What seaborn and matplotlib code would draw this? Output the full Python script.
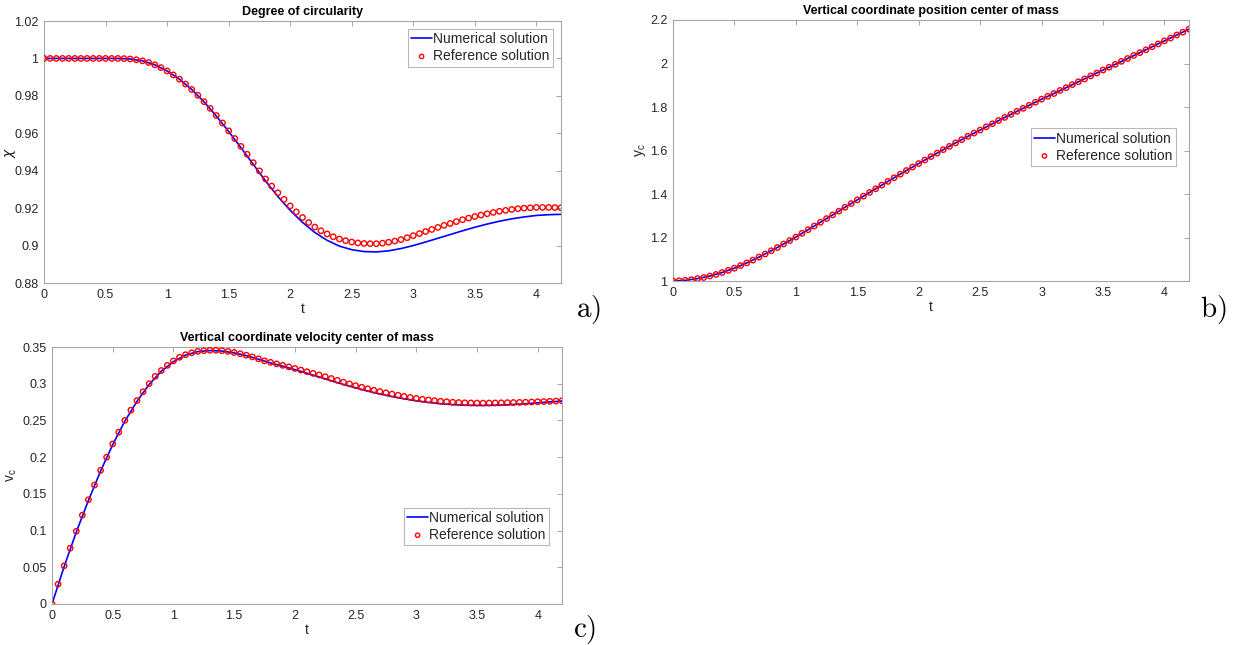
import numpy as np
import pandas as pd
import matplotlib
matplotlib.use("Agg")
import matplotlib.pyplot as plt
from matplotlib.ticker import FuncFormatter
import seaborn as sns

# ---------------- data ----------------
t_ref = np.round(np.arange(85) * 0.05, 2)   # reference-solution sample times
t_num = np.round(np.arange(43) * 0.1, 1)    # numerical-solution sample times

chi_ref = [1.0000, 1.0000, 1.0000, 1.0000, 1.0000, 1.0000, 1.0000, 1.0000, 1.0000, 1.0000,
           1.0000, 1.0000, 1.0000, 0.9999, 0.9997, 0.9993, 0.9987, 0.9978, 0.9966, 0.9951,
           0.9933, 0.9912, 0.9889, 0.9863, 0.9834, 0.9803, 0.9769, 0.9733, 0.9695, 0.9655,
           0.9613, 0.9572, 0.9530, 0.9488, 0.9443, 0.9399, 0.9356, 0.9318, 0.9282, 0.9247,
           0.9212, 0.9180, 0.9150, 0.9123, 0.9099, 0.9079, 0.9062, 0.9047, 0.9035, 0.9026,
           0.9019, 0.9014, 0.9011, 0.9010, 0.9010, 0.9013, 0.9018, 0.9024, 0.9032, 0.9042,
           0.9053, 0.9064, 0.9075, 0.9086, 0.9097, 0.9108, 0.9118, 0.9128, 0.9138, 0.9147,
           0.9155, 0.9163, 0.9170, 0.9177, 0.9183, 0.9188, 0.9193, 0.9197, 0.9200, 0.9202,
           0.9204, 0.9204, 0.9204, 0.9203, 0.9202]

chi_num = [1.0000, 1.0000, 1.0000, 1.0000, 1.0000, 1.0000, 1.0000, 0.9997, 0.9987, 0.9966,
           0.9933, 0.9889, 0.9834, 0.9768, 0.9692, 0.9610, 0.9523, 0.9434, 0.9345, 0.9262,
           0.9188, 0.9124, 0.9070, 0.9028, 0.8997, 0.8978, 0.8968, 0.8966, 0.8972, 0.8984,
           0.9000, 0.9019, 0.9039, 0.9059, 0.9079, 0.9098, 0.9115, 0.9130, 0.9143, 0.9153,
           0.9161, 0.9165, 0.9167]

yc_ref = [1.000, 1.001, 1.003, 1.006, 1.011, 1.016, 1.023, 1.030, 1.039, 1.049,
          1.059, 1.071, 1.083, 1.096, 1.110, 1.124, 1.139, 1.154, 1.170, 1.186,
          1.202, 1.219, 1.236, 1.253, 1.270, 1.287, 1.304, 1.321, 1.339, 1.356,
          1.373, 1.390, 1.407, 1.424, 1.441, 1.458, 1.475, 1.491, 1.508, 1.524,
          1.540, 1.556, 1.572, 1.588, 1.604, 1.619, 1.635, 1.650, 1.665, 1.680,
          1.694, 1.709, 1.723, 1.738, 1.752, 1.766, 1.780, 1.794, 1.808, 1.822,
          1.836, 1.849, 1.862, 1.876, 1.889, 1.903, 1.916, 1.929, 1.943, 1.956,
          1.970, 1.983, 1.996, 2.010, 2.023, 2.037, 2.050, 2.063, 2.077, 2.090,
          2.104, 2.117, 2.131, 2.144, 2.158]

yc_num = [1.000, 1.003, 1.011, 1.023, 1.039, 1.059, 1.083, 1.110, 1.139, 1.170,
          1.202, 1.236, 1.270, 1.304, 1.339, 1.373, 1.407, 1.441, 1.475, 1.508,
          1.540, 1.572, 1.604, 1.635, 1.665, 1.694, 1.723, 1.752, 1.780, 1.808,
          1.836, 1.862, 1.889, 1.916, 1.943, 1.970, 1.996, 2.023, 2.050, 2.077,
          2.104, 2.131, 2.158]

vc_ref = [0.000, 0.027, 0.052, 0.076, 0.099, 0.121, 0.142, 0.162, 0.182, 0.200,
          0.218, 0.234, 0.250, 0.264, 0.277, 0.289, 0.300, 0.310, 0.318, 0.325,
          0.331, 0.336, 0.3395, 0.342, 0.344, 0.345, 0.3455, 0.3455, 0.345, 0.344,
          0.3425, 0.3408, 0.3388, 0.3365, 0.3339, 0.3311, 0.3291, 0.3270, 0.3250, 0.3229,
          0.3208, 0.3186, 0.3164, 0.3141, 0.3119, 0.3096, 0.3071, 0.3046, 0.3021, 0.2997,
          0.2974, 0.2952, 0.2931, 0.2911, 0.2893, 0.2876, 0.2859, 0.2843, 0.2827, 0.2813,
          0.2800, 0.2788, 0.2778, 0.2769, 0.2761, 0.2754, 0.2748, 0.2744, 0.2740, 0.2738,
          0.2737, 0.2736, 0.2737, 0.2738, 0.2740, 0.2742, 0.2744, 0.2746, 0.2748, 0.2751,
          0.2754, 0.2757, 0.2760, 0.2764, 0.2768]

vc_num = [0.000, 0.051, 0.098, 0.141, 0.181, 0.217, 0.249, 0.276, 0.299, 0.317,
          0.330, 0.339, 0.3437, 0.3452, 0.3445, 0.3420, 0.3383, 0.3333, 0.3283, 0.3238,
          0.3192, 0.3143, 0.3092, 0.3040, 0.2990, 0.2945, 0.2900, 0.2860, 0.2825, 0.2795,
          0.2768, 0.2745, 0.2727, 0.2715, 0.2707, 0.2704, 0.2705, 0.2709, 0.2717, 0.2727,
          0.2740, 0.2752, 0.2764]

x_ticks = [0, 0.5, 1, 1.5, 2, 2.5, 3, 3.5, 4]
chi_ticks = [0.88, 0.90, 0.92, 0.94, 0.96, 0.98, 1.00, 1.02]
yc_ticks = [1.0, 1.2, 1.4, 1.6, 1.8, 2.0, 2.2]
vc_ticks = [0, 0.05, 0.10, 0.15, 0.20, 0.25, 0.30, 0.35]

titles = ["Degree of circularity",
          "Vertical coordinate position center of mass",
          "Vertical coordinate velocity center of mass"]
ylabels = [r"$\chi$", r"$\mathregular{y_c}$", r"$\mathregular{v_c}$"]
legend_labels = ["Numerical solution", "Reference solution"]
panel_tags = ["a)", "b)", "c)"]

# ---------------- style ----------------
sns.set_style("white")
plt.rcParams["font.family"] = ["Liberation Sans", "DejaVu Sans"]
plt.rcParams["mathtext.fontset"] = "dejavusans"

W, H = 1248, 645
fig = plt.figure(figsize=(W / 100, H / 100), dpi=100)


def px_axes(left, top, right, bottom):
    return fig.add_axes([left / W, 1 - bottom / H, (right - left) / W, (bottom - top) / H])


ax_a = px_axes(44, 21, 561, 283)
ax_b = px_axes(673, 20, 1189, 281)
ax_c = px_axes(52, 347, 562, 604)

# (axes, numerical, reference, yticks, ylim, legend anchor, ylabel centre x in pixels)
panels = [
    (ax_a, chi_num, chi_ref, chi_ticks, (0.88, 1.02), (0.985, 0.97), 10),
    (ax_b, yc_num, yc_ref, yc_ticks, (1.0, 2.2), (0.975, 0.585), 641),
    (ax_c, vc_num, vc_ref, vc_ticks, (0.0, 0.35), (0.975, 0.375), 12),
]

fmt = FuncFormatter(lambda v, p: f"{v:g}")
box_col = "#a6a6a6"
txt_col = "#262626"

for i, (ax, ynum, yref, yt, ylim, anchor, ylab_px) in enumerate(panels):
    df_num = pd.DataFrame({"t": t_num, "y": ynum})
    df_ref = pd.DataFrame({"t": t_ref, "y": yref})
    sns.lineplot(data=df_num, x="t", y="y", ax=ax, color="#0000ff", linewidth=1.2,
                 label=legend_labels[0], zorder=2)
    sns.scatterplot(data=df_ref, x="t", y="y", ax=ax, marker="o", s=15,
                    facecolors="none", edgecolor="#ff0000", linewidth=1.0,
                    label=legend_labels[1], zorder=3)
    ax.set_xlim(0, 4.2)
    ax.set_ylim(*ylim)
    ax.set_xticks(x_ticks)
    ax.set_yticks(yt)
    ax.xaxis.set_major_formatter(fmt)
    ax.yaxis.set_major_formatter(fmt)
    ax.tick_params(direction="in", length=3.5, width=0.7, color=box_col,
                   top=True, right=True, labelsize=9, labelcolor=txt_col, pad=4)
    for sp in ax.spines.values():
        sp.set_visible(True)
        sp.set_color(box_col)
        sp.set_linewidth(0.8)
    ax.set_title(titles[i], fontsize=9, fontweight="bold", color="black", pad=4)
    ax.set_xlabel("t", fontsize=10, color=txt_col, labelpad=1)
    ax.set_ylabel(ylabels[i], fontsize=10, color=txt_col)
    ax.yaxis.label.set_verticalalignment("center")
    bb = ax.get_position()
    ax.yaxis.set_label_coords((ylab_px / W - bb.x0) / bb.width, 0.5)
    leg = ax.legend(loc="upper right", bbox_to_anchor=anchor, fontsize=10, frameon=True,
                    fancybox=False, edgecolor=box_col, handlelength=1.5,
                    handletextpad=0.1, borderpad=0.25, labelspacing=0.2,
                    borderaxespad=0.0, markerscale=0.8)
    leg.get_frame().set_linewidth(0.8)

plt.rcParams["mathtext.fontset"] = "cm"
tag_pos = [(588, 309), (1213, 310), (585, 629)]
for tag, (x, y) in zip(panel_tags, tag_pos):
    fig.text(x / W, 1 - y / H, r"$\mathrm{" + tag + "}$", fontsize=21,
             ha="center", va="center", color="black")

fig.savefig("out.png", dpi=100, facecolor="white")
